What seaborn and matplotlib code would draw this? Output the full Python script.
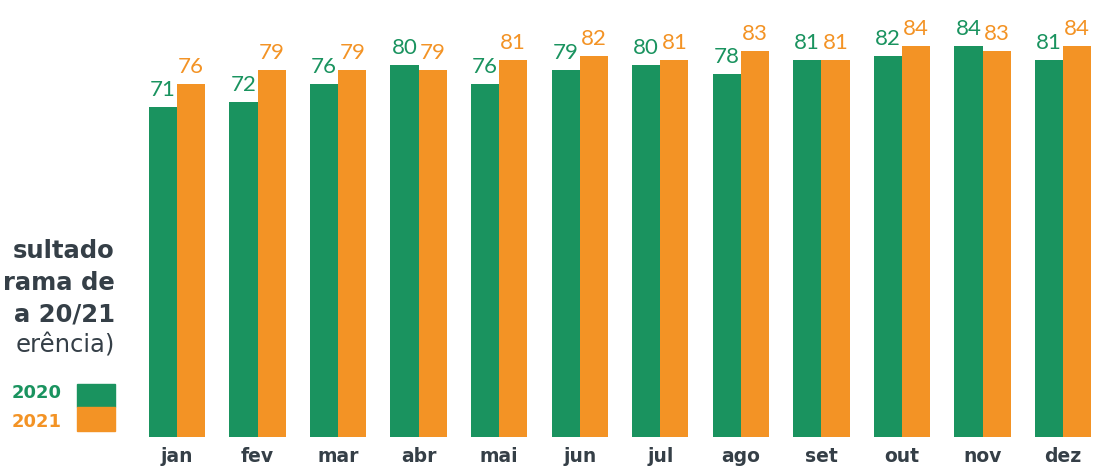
#!/usr/bin/env python
"""Monthly results 2020 vs 2021, grouped bars with value labels."""
import matplotlib
matplotlib.use('Agg')
import matplotlib.pyplot as plt
from matplotlib.patches import Rectangle
import seaborn as sb
import pandas as pd

# chart data
months = ['jan', 'fev', 'mar', 'abr', 'mai', 'jun',
          'jul', 'ago', 'set', 'out', 'nov', 'dez']
years = ['2020', '2021']
values_2020 = [71, 72, 76, 80, 76, 79, 80, 78, 81, 82, 84, 81]
values_2021 = [76, 79, 79, 79, 81, 82, 81, 83, 81, 84, 83, 84]
title_lines = ['sultado', 'rama de', 'a 20/21', 'erência)']

green = '#1a935f'
orange = '#f39325'
dark = '#353f47'
wide_font = ['DejaVu Sans']


def main():
    sb.set_style('white')
    plt.rcParams['font.family'] = ['Lato', 'DejaVu Sans']

    df = pd.DataFrame({
        'month': months * 2,
        'year': [years[0]] * len(months) + [years[1]] * len(months),
        'value': values_2020 + values_2021,
    })

    W, H = 1093, 467
    fig = plt.figure(figsize=(W / 100, H / 100), dpi=100)
    left, right, bottom = 140, 1093, 437
    ax = fig.add_axes([left / W, (H - bottom) / H, (right - left) / W, bottom / H])

    sb.barplot(data=df, x='month', y='value', hue='year',
               palette=[green, orange], saturation=1, width=0.7,
               gap=0, legend=False, linewidth=0, ax=ax)

    # fit the group spacing to the reference
    spacing = 80.55
    ax.set_xlim((left - 177) / spacing, (right - 177) / spacing)
    ax.set_ylim(0, bottom / 4.65)

    for cont, col in zip(ax.containers, [green, orange]):
        ax.bar_label(cont, padding=5, fontsize=16, color=col)

    for s in ax.spines.values():
        s.set_visible(False)
    ax.set_yticks([])
    ax.set_xlabel('')
    ax.set_ylabel('')
    ax.tick_params(axis='x', length=0, pad=7)
    for lbl in ax.get_xticklabels():
        lbl.set_fontsize(13.5)
        lbl.set_fontweight('bold')
        lbl.set_family(wide_font)
        lbl.set_color(dark)

    # cut-off title on the left
    baselines = [258, 290, 322, 352]
    for i, (txt, yb) in enumerate(zip(title_lines, baselines)):
        fig.text(115 / W, 1 - yb / H, txt, ha='right', va='baseline',
                 fontsize=17.5, color=dark, family=wide_font,
                 fontweight='bold' if i < 3 else 'normal')

    # legend squares
    fig.patches.append(Rectangle((77 / W, 1 - 407 / H), 38 / W, 23 / H,
                                 transform=fig.transFigure, color=green))
    fig.patches.append(Rectangle((77 / W, 1 - 431 / H), 38 / W, 24 / H,
                                 transform=fig.transFigure, color=orange))
    fig.text(62 / W, 1 - 398 / H, years[0], ha='right', va='baseline',
             fontsize=13, fontweight='bold', color=green, family=wide_font)
    fig.text(62 / W, 1 - 427 / H, years[1], ha='right', va='baseline',
             fontsize=13, fontweight='bold', color=orange, family=wide_font)

    fig.savefig('out.png', dpi=100)


if __name__ == '__main__':
    main()
